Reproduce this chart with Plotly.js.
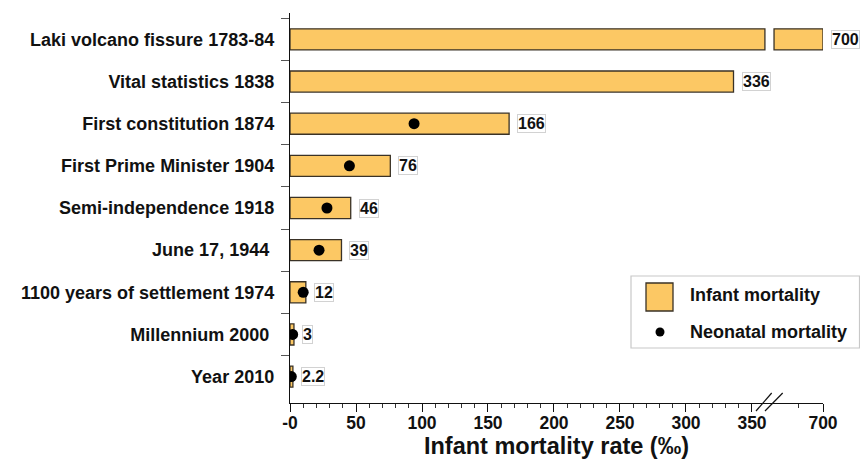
<!DOCTYPE html>
<html>
<head>
<meta charset="utf-8">
<script src="https://cdn.plot.ly/plotly-3.0.1.min.js"></script>
<style>html,body{margin:0;padding:0;background:#fff}#chart{width:860px;height:459px}</style>
</head>
<body>
<div id="chart"></div>
<script>
// ---- data ----
var categories = [
  "Laki volcano fissure 1783-84",
  "Vital statistics 1838",
  "First constitution 1874",
  "First Prime Minister 1904",
  "Semi-independence 1918",
  "June 17, 1944 ",
  "1100 years of settlement 1974",
  "Millennium 2000 ",
  "Year 2010"
];
var infantMortality = [700, 336, 166, 76, 46, 39, 12, 3, 2.2];
var infantLabels = ["700", "336", "166", "76", "46", "39", "12", "3", "2.2"];
var neonatalMortality = [null, null, 94, 45, 28, 22, 10, 2, 1];
var xTickValues = [0, 50, 100, 150, 200, 250, 300, 350, 700];
var xTickLabels = ["-0", "50", "100", "150", "200", "250", "300", "350", "700"];

// ---- broken axis mapping ----
var BREAK_AT = 350, SEG1_END = 359.8, SEG2_START = 366.7, AXIS_MAX = 403.8, TOP_VAL = 700;
function toAxis(v) {
  if (v <= BREAK_AT) return v;
  return SEG2_START + (v - BREAK_AT) * (AXIS_MAX - SEG2_START) / (TOP_VAL - BREAK_AT);
}

var FILL = "#FCC864", EDGE = "#3a3226";
var FONT = "Liberation Sans, Arial, Helvetica, sans-serif";

var seg1 = infantMortality.map(function (v) { return v > BREAK_AT ? SEG1_END : toAxis(v); });
var seg2 = infantMortality.map(function (v) { return v > BREAK_AT ? toAxis(v) - SEG2_START : null; });
var seg2base = infantMortality.map(function (v) { return v > BREAK_AT ? SEG2_START : null; });

var traces = [
  {type: "bar", orientation: "h", y: categories, x: seg1, width: 0.5,
   marker: {color: FILL, line: {color: EDGE, width: 1.3}}, showlegend: false, hoverinfo: "skip"},
  {type: "bar", orientation: "h", y: categories, x: seg2, base: seg2base, width: 0.5,
   marker: {color: FILL, line: {color: EDGE, width: 1.3}}, showlegend: false, hoverinfo: "skip"},
  {type: "scatter", mode: "markers", y: categories, x: neonatalMortality,
   marker: {color: "#000", size: 11}, showlegend: false}
];

var annotations = infantMortality.map(function (v, i) {
  return {x: toAxis(v), y: categories[i], xref: "x", yref: "y", text: "<b>" + infantLabels[i] + "</b>",
    xanchor: "left", xshift: 8, showarrow: false,
    font: {family: FONT, size: 16, color: "#111"},
    bgcolor: "#fff", bordercolor: "#d2d2d2", borderwidth: 1, borderpad: 0};
});

// legend (drawn)
function px(x) { return (x - 290) / 533; }
function py(y) { return (403 - y) / 390; }
annotations.push({xref: "paper", yref: "paper", x: px(688), y: py(295), xanchor: "left", yanchor: "middle",
  text: "<b>Infant mortality</b>", showarrow: false, font: {family: FONT, size: 18, color: "#111"}});
annotations.push({xref: "paper", yref: "paper", x: px(688), y: py(332), xanchor: "left", yanchor: "middle",
  text: "<b>Neonatal mortality</b>", showarrow: false, font: {family: FONT, size: 18, color: "#111"}});

var shapes = [
  {type: "rect", xref: "paper", yref: "paper", x0: px(631), x1: px(859.5), y0: py(348), y1: py(276),
   line: {color: "#c8c8c8", width: 1.2}, fillcolor: "#fff", layer: "below"},
  {type: "rect", xref: "paper", yref: "paper", x0: px(646), x1: px(673), y0: py(311), y1: py(283),
   line: {color: EDGE, width: 1.3}, fillcolor: FILL},
  {type: "circle", xref: "paper", yref: "paper", x0: px(655.5), x1: px(664.5), y0: py(336.5), y1: py(327.5),
   line: {width: 0}, fillcolor: "#000"},
  // axis break marks
  {type: "line", xref: "x", yref: "paper", x0: (756 - 290) / 1.32, x1: (771.7 - 290) / 1.32, y0: py(411), y1: py(393),
   line: {color: "#111", width: 1.2}},
  {type: "line", xref: "x", yref: "paper", x0: (765 - 290) / 1.32, x1: (782.7 - 290) / 1.32, y0: py(411), y1: py(393),
   line: {color: "#111", width: 1.2}}
];

var minorVals = [];
for (var m = 10; m < 350; m += 10) { if (m % 50) minorVals.push(m); }
minorVals.push(385.6);

var layout = {
  width: 860, height: 459,
  margin: {l: 290, r: 37, t: 13, b: 56},
  paper_bgcolor: "#fff", plot_bgcolor: "#fff",
  barmode: "overlay",
  showlegend: false,
  xaxis: {
    range: [0, AXIS_MAX], fixedrange: true,
    tickmode: "array", tickvals: xTickValues.map(toAxis),
    ticktext: xTickLabels.map(function (t) { return "<b>" + t + "</b>"; }),
    ticks: "outside", ticklen: 8, tickwidth: 1, tickcolor: "#111",
    minor: {tickmode: "array", tickvals: minorVals, ticks: "outside", ticklen: 4, tickcolor: "#333", showgrid: false},
    showline: true, linecolor: "#111", linewidth: 1.2, showgrid: false, zeroline: false,
    tickfont: {family: FONT, size: 17.5, color: "#111"},
    ticklabelstandoff: -4,
    title: {text: "<b>Infant mortality rate (‰)</b>", standoff: 3,
      font: {family: FONT, size: 23.5, color: "#111"}},
    automargin: false
  },
  yaxis: {
    type: "category", autorange: "reversed", fixedrange: true,
    tickson: "boundaries", ticks: "outside", ticklen: 8, tickcolor: "#555", tickwidth: 1,
    showline: true, linecolor: "#111", linewidth: 1.2, showgrid: false, zeroline: false,
    tickfont: {family: FONT, size: 18, color: "#111", weight: "bold"},
    ticklabelstandoff: 11,
    automargin: false
  },
  annotations: annotations,
  shapes: shapes
};

Plotly.newPlot("chart", traces, layout, {displayModeBar: false, staticPlot: true});
</script>
</body>
</html>
